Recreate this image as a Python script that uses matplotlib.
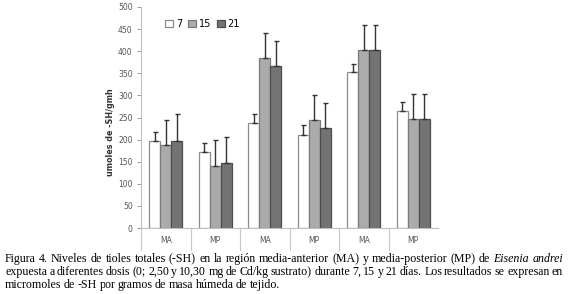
import numpy as np
import matplotlib
matplotlib.use('Agg')
from matplotlib import pyplot as plt
import matplotlib.transforms as mtransforms

categories = ['MA', 'MP', 'MA', 'MP', 'MA', 'MP']
series_names = ['7', '15', '21']
values_7 = [197, 173, 238, 211, 352, 264]
values_15 = [187, 141, 384, 244, 402, 246]
values_21 = [196, 148, 367, 226, 402, 246]
err_7 = [21, 20, 20, 21, 20, 20]
err_15 = [58, 57, 58, 57, 58, 58]
err_21 = [61, 57, 56, 57, 58, 58]

y_label = 'umoles de -SH/gmh'
caption = [
    [('Figura 4. Niveles de tioles totales (-SH) en la región media-anterior (MA) y media-posterior (MP) de', 'normal'),
     ('Eisenia andrei', 'italic')],
    [('expuesta a diferentes dosis (0; 2,50 y 10,30 mg de Cd/kg sustrato) durante 7, 15 y 21 días. Los resultados se expresan en', 'normal')],
    [('micromoles de -SH por gramos de masa húmeda de tejido.', 'normal')],
]

W, H = 568, 294
fig = plt.figure(figsize=(W / 100, H / 100), dpi=100)
ax = fig.add_axes([141 / W, 1 - 228 / H, (438 - 141) / W, 221 / H])

x = np.arange(len(categories))
bw = 0.225
face = ['white', '#ababab', '#737373']
edge = ['#8c8c8c', '#7a7a7a', '#4d4d4d']
all_vals = [values_7, values_15, values_21]
all_errs = [err_7, err_15, err_21]
for i in range(3):
    pos = x + (i - 1) * bw
    ax.bar(pos, all_vals[i], bw, color=face[i], edgecolor=edge[i], linewidth=0.9,
           label=series_names[i], zorder=2)
    ax.errorbar(pos, all_vals[i], yerr=[np.zeros(6), all_errs[i]], fmt='none',
                ecolor='#333333', elinewidth=1.0, capsize=1.8, capthick=1.0, zorder=3)

ax.set_xlim(-0.5, len(categories) - 0.5)
ax.set_ylim(0, 500)
ax.set_yticks(range(0, 501, 50))
ax.tick_params(axis='y', labelsize=5.5, colors='#999999', labelcolor='#555555',
               length=3, width=0.7, pad=3)
ax.set_xticks([])
for s in ['top', 'right']:
    ax.spines[s].set_visible(False)
ax.spines['left'].set_color('#c0c0c0')
ax.spines['bottom'].set_color('#c0c0c0')
ax.spines['left'].set_linewidth(0.8)
ax.spines['bottom'].set_linewidth(0.8)
ax.set_ylabel(y_label, fontsize=5.8, fontweight='bold', color='#333333')
ax.yaxis.set_label_coords(-0.088, 0.434)

# category separators and labels under the axis
trans = mtransforms.blended_transform_factory(ax.transData, ax.transAxes)
for b in np.arange(-0.5, len(categories) - 1, 1.0):
    ax.plot([b, b], [0, -0.10], transform=trans, color='#c8c8c8', lw=0.8, clip_on=False)
for xi, c in zip(x, categories):
    ax.text(xi, -0.055, c, transform=trans, ha='center', va='center', fontsize=5.5, color='#555555')

leg = ax.legend(loc='center left', bbox_to_anchor=(0.065, 0.923), ncol=3, frameon=False,
                fontsize=7, handlelength=0.8, handleheight=0.8, handletextpad=0.3,
                columnspacing=0.6, borderpad=0)

# justified caption
fig.canvas.draw()
renderer = fig.canvas.get_renderer()
left, right = 5, 563
baselines = [262, 275, 288]
for li, line in enumerate(caption):
    words = []
    for chunk, style in line:
        for w in chunk.split(' '):
            words.append((w, style))
    items = []
    for w, style in words:
        t = fig.text(0, 0, w, fontsize=8.6, family='Liberation Serif', style=style,
                     va='baseline', ha='left', transform=None)
        wd = t.get_window_extent(renderer).width
        items.append((t, wd))
    total = sum(wd for _, wd in items)
    if li < len(caption) - 1:
        gap = (right - left - total) / (len(items) - 1)
    else:
        gap = 2.4
    xp = left
    for t, wd in items:
        t.set_position((xp, H - baselines[li]))
        xp += wd + gap

fig.savefig('out.png', dpi=100)
